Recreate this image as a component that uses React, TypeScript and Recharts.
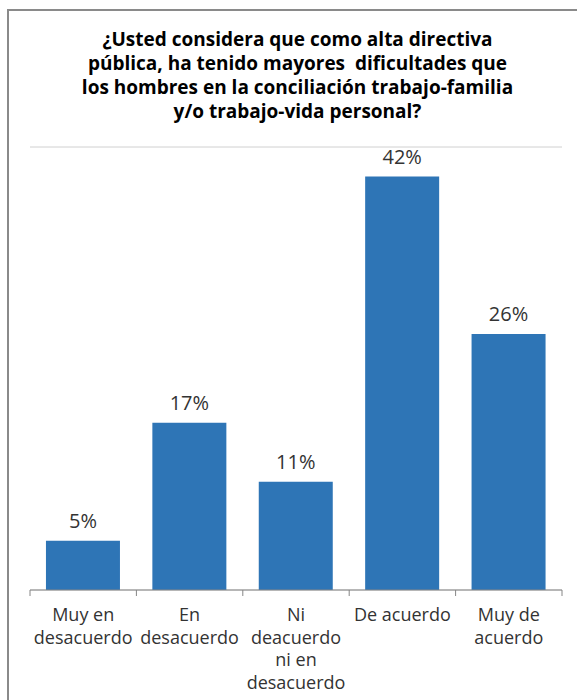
import React from 'react'
import { BarChart, Bar, XAxis, YAxis, CartesianGrid, LabelList } from 'recharts'

const categories = [
  'Muy en\ndesacuerdo',
  'En\ndesacuerdo',
  'Ni\ndeacuerdo\nni en\ndesacuerdo',
  'De acuerdo',
  'Muy de\nacuerdo',
]
const values = [5, 17, 11, 42, 26]
const yTicks = [0, 5, 10, 15, 20, 25, 30, 35, 40, 45]

const data = categories.map((name, i) => ({ name, value: values[i] }))

const FONT = '"Open Sans", sans-serif'
const BAR_COLOR = '#2E75B6'
const AXIS_COLOR = '#868686'

function CategoryTick(props: any) {
  const { x, y, payload, index, visibleTicksCount } = props
  const half = payload.offset || 0
  const lines = String(payload.value).split('\n')
  const isLast = index === visibleTicksCount - 1
  return (
    <g>
      <line x1={x - half} x2={x - half} y1={y - 6} y2={y} stroke={AXIS_COLOR} />
      {isLast && <line x1={x + half} x2={x + half} y1={y - 6} y2={y} stroke={AXIS_COLOR} />}
      <text x={x} y={y + 25} textAnchor="middle" fill="#333" fontSize={18} fontFamily={FONT}>
        {lines.map((l, i) => (
          <tspan key={i} x={x} dy={i === 0 ? 0 : 22.7}>{l}</tspan>
        ))}
      </text>
    </g>
  )
}

export default function App() {
  return (
    <div
      style={{
        position: 'fixed',
        left: 7,
        top: 9,
        width: 620,
        height: 720,
        borderTop: '2px solid #8a8a8a',
        borderLeft: '2px solid #8a8a8a',
        background: '#fff',
      }}
    >
      <div
        style={{
          position: 'absolute',
          top: 16,
          left: 0,
          width: 577,
          textAlign: 'center',
          fontFamily: FONT,
          fontWeight: 700,
          fontSize: 19,
          lineHeight: '24px',
          color: '#000',
        }}
      >
        ¿Usted considera que como alta directiva
        <br />
        pública, ha tenido mayores&nbsp; dificultades que
        <br />
        los hombres en la conciliación trabajo-familia
        <br />
        y/o trabajo-vida personal?
      </div>
      <div style={{ position: 'absolute', top: 119, left: 0 }}>
        <BarChart
          width={560}
          height={580}
          data={data}
          margin={{ top: 17, right: 7, bottom: 20, left: 21 }}
          barCategoryGap="15%"
        >
          <CartesianGrid vertical={false} stroke="#d0d0d0" />
          <XAxis
            dataKey="name"
            interval={0}
            height={100}
            tickLine={false}
            tickSize={6}
            tickMargin={0}
            axisLine={{ stroke: AXIS_COLOR }}
            tick={<CategoryTick />}
          />
          <YAxis
            width={0}
            domain={[0, 45]}
            ticks={yTicks}
            tick={false}
            axisLine={false}
            tickLine={false}
          />
          <Bar dataKey="value" fill={BAR_COLOR} isAnimationActive={false}>
            <LabelList
              dataKey="value"
              position="top"
              offset={13}
              formatter={(v: any) => `${v}%`}
              fill="#333"
              fontSize={20}
              fontFamily={FONT}
            />
          </Bar>
        </BarChart>
      </div>
    </div>
  )
}
